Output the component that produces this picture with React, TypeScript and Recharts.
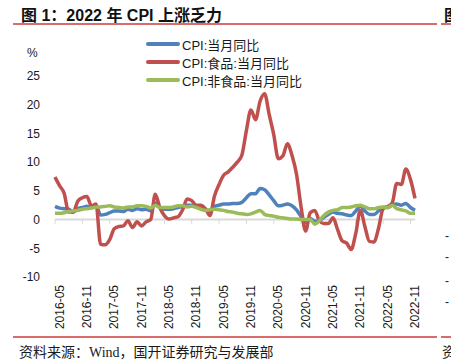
import React from 'react';
import { LineChart, Line, XAxis, YAxis, ReferenceLine, Legend } from 'recharts';

// monthly categories 2016-04 .. 2022-11
const months: string[] = [];
for (let y = 2016; y <= 2022; y++) {
  for (let m = 1; m <= 12; m++) {
    if ((y === 2016 && m < 4) || (y === 2022 && m > 11)) continue;
    months.push(`${y}-${m < 10 ? '0' + m : m}`);
  }
}

const cpi = [
  2.3, 2.0, 1.9, 1.8, 1.3, 1.9, 2.1, 2.3, 2.1,
  2.5, 0.8, 0.9, 1.2, 1.5, 1.5, 1.4, 1.8, 1.6, 1.9, 1.7, 1.8,
  1.5, 2.9, 2.1, 1.8, 1.8, 1.9, 2.1, 2.3, 2.5, 2.5, 2.2, 1.9,
  1.7, 1.5, 2.3, 2.5, 2.7, 2.7, 2.8, 2.8, 3.0, 3.8, 4.5, 4.5,
  5.4, 5.2, 4.3, 3.3, 2.4, 2.5, 2.7, 2.4, 1.7, 0.5, -0.5, 0.2,
  -0.3, -0.2, 0.4, 0.9, 1.3, 1.1, 1.0, 0.8, 0.7, 1.5, 2.3, 1.5,
  0.9, 0.9, 1.5, 2.1, 2.1, 2.5, 2.7, 2.5, 2.8, 2.1, 1.6,
];

const food = [
  7.4, 5.9, 4.6, 1.3, 1.3, 3.2, 3.8, 4.0, 2.4,
  2.7, -4.3, -4.4, -3.5, -1.6, -1.2, -1.1, -0.2, -1.4, -0.4, -1.1, -0.4,
  0.0, 4.4, 2.1, 0.7, 0.1, 0.3, 0.5, 1.7, 3.6, 3.3, 2.5, 2.5,
  1.9, 0.7, 4.1, 6.1, 7.7, 8.3, 9.1, 10.0, 11.2, 15.5, 19.1, 17.4,
  20.6, 21.9, 18.3, 14.8, 10.6, 11.1, 13.2, 11.2, 7.9, 2.2, -2.0, 1.2,
  1.6, -0.2, -0.7, -0.7, 0.3, -1.7, -3.7, -4.1, -5.2, -2.4, 1.6, -1.2,
  -3.8, -3.9, -1.5, 1.9, 2.3, 2.9, 6.3, 6.1, 8.8, 7.0, 3.7,
];

const nonFood = [
  1.1, 1.1, 1.2, 1.4, 1.5, 1.6, 1.8, 1.9, 2.0,
  2.2, 2.2, 2.3, 2.4, 2.2, 2.1, 2.0, 2.2, 2.2, 2.4, 2.4, 2.3,
  2.0, 2.5, 2.1, 2.1, 2.1, 2.2, 2.4, 2.4, 2.2, 2.3, 2.1, 1.8,
  1.6, 1.7, 1.8, 1.7, 1.6, 1.4, 1.3, 1.1, 1.0, 0.9, 1.0, 1.3,
  1.6, 0.9, 0.7, 0.6, 0.4, 0.3, 0.2, 0.1, 0.1, 0.0, 0.0, 0.0,
  -0.8, -0.2, 0.7, 1.3, 1.6, 1.7, 2.1, 2.1, 2.2, 2.4, 2.5, 2.2,
  1.9, 1.9, 2.1, 2.2, 2.1, 2.5, 1.9, 1.7, 1.5, 1.1, 1.1,
];

const seriesOrder = ['cpi', 'food', 'nonFood'];
const yTicks = [-10, -5, 0, 5, 10, 15, 20, 25];
const xLabels = [
  '2016-05', '2016-11', '2017-05', '2017-11', '2018-05', '2018-11', '2019-05',
  '2019-11', '2020-05', '2020-11', '2021-05', '2021-11', '2022-05', '2022-11',
];
const tickMarks = [
  '2016-04', '2016-10', '2017-04', '2017-10', '2018-04', '2018-10', '2019-04',
  '2019-10', '2020-04', '2020-10', '2021-04', '2021-10', '2022-04', '2022-10',
];

const data = months.map((month, i) => ({
  month,
  cpi: cpi[i],
  food: food[i],
  nonFood: nonFood[i],
}));

const sans = '"Liberation Sans", "Noto Sans CJK SC", sans-serif';
const serif = '"Liberation Serif", "Noto Sans CJK SC", serif';

function MonthTick(props: any) {
  const { x, y, payload } = props;
  return (
    <text
      x={x}
      y={y}
      dy={4}
      transform={`rotate(-90, ${x}, ${y})`}
      textAnchor="end"
      fontSize={12}
      fontFamily={sans}
      fill="#1a1a1a"
    >
      {payload.value}
    </text>
  );
}

function LegendBox({ payload }: any) {
  const items = [...(payload || [])].sort(
    (a: any, b: any) => seriesOrder.indexOf(a.dataKey) - seriesOrder.indexOf(b.dataKey)
  );
  return (
    <div style={{ fontFamily: sans, fontSize: 13, color: '#1a1a1a' }}>
      {items.map((p: any) => (
        <div key={p.value} style={{ display: 'flex', alignItems: 'center', height: 18, whiteSpace: 'nowrap' }}>
          <span style={{ width: 34, height: 3.5, background: p.color, marginRight: 2, borderRadius: 2 }} />
          <span>{p.value}</span>
        </div>
      ))}
    </div>
  );
}

export default function App() {
  return (
    <div
      style={{
        position: 'fixed', left: 0, top: 0, width: 451, height: 362,
        background: '#fff', overflow: 'hidden',
      }}
    >
      <div style={{ position: 'absolute', left: 21, top: 2, fontFamily: sans, fontWeight: 'bold', fontSize: 16, color: '#111', whiteSpace: 'nowrap' }}>
        图 1：2022 年 CPI 上涨乏力
      </div>
      <div style={{ position: 'absolute', left: 444, top: 2, fontFamily: sans, fontWeight: 'bold', fontSize: 16, color: '#111' }}>图</div>
      <div style={{ position: 'absolute', left: 13, top: 23, width: 424, height: 2, background: '#DA6B6B' }} />
      <div style={{ position: 'absolute', left: 441, top: 23, width: 10, height: 2, background: '#DA6B6B' }} />

      <div style={{ position: 'absolute', left: 27, top: 46, fontFamily: sans, fontSize: 12, color: '#1a1a1a' }}>%</div>

      <LineChart width={451} height={362} data={data} margin={{ top: 76, right: 36, bottom: 25, left: 15 }}>
        <XAxis
          dataKey="month"
          ticks={xLabels}
          interval={0}
          axisLine={false}
          tickLine={false}
          tickSize={0}
          tickMargin={8}
          height={60}
          tick={<MonthTick />}
        />
        <YAxis
          type="number"
          domain={[-10, 25]}
          ticks={yTicks}
          axisLine={false}
          tickLine={false}
          tickSize={0}
          tickMargin={15}
          width={40}
          tick={{ fontSize: 12, fontFamily: sans, fill: '#1a1a1a' }}
        />
        <ReferenceLine y={0} stroke="#D9D9D9" strokeWidth={2} />
        {tickMarks.map((m) => (
          <ReferenceLine key={m} segment={[{ x: m, y: 0 }, { x: m, y: -0.75 }]} stroke="#D9D9D9" strokeWidth={1} />
        ))}
        <Legend
          layout="vertical"
          align="center"
          verticalAlign="middle"
          wrapperStyle={{ left: 146, top: 35, width: 'auto', height: 'auto' }}
          content={<LegendBox />}
        />
        <Line type="monotone" dataKey="cpi" name="CPI:当月同比" stroke="#4F81BD" strokeWidth={3.5} dot={false} isAnimationActive={false} />
        <Line type="monotone" dataKey="food" name="CPI:食品:当月同比" stroke="#C0504D" strokeWidth={3.5} dot={false} isAnimationActive={false} />
        <Line type="monotone" dataKey="nonFood" name="CPI:非食品:当月同比" stroke="#9BBB59" strokeWidth={3.5} dot={false} isAnimationActive={false} />
      </LineChart>

      <div style={{ position: 'absolute', left: 13, top: 336, width: 424, height: 2, background: '#DA6B6B' }} />
      <div style={{ position: 'absolute', left: 441, top: 336, width: 10, height: 2, background: '#DA6B6B' }} />
      <div style={{ position: 'absolute', left: 19, top: 341, fontFamily: serif, fontSize: 14, color: '#1a1a1a', whiteSpace: 'nowrap' }}>
        资料来源：Wind，国开证券研究与发展部
      </div>
      <div style={{ position: 'absolute', left: 442, top: 341, fontFamily: serif, fontSize: 14, color: '#1a1a1a' }}>资</div>
      {['229', '250', '274', '295'].map((t) => (
        <div key={t} style={{ position: 'absolute', left: 445, top: Number(t), fontFamily: sans, fontSize: 12, color: '#1a1a1a' }}>-</div>
      ))}
    </div>
  );
}
